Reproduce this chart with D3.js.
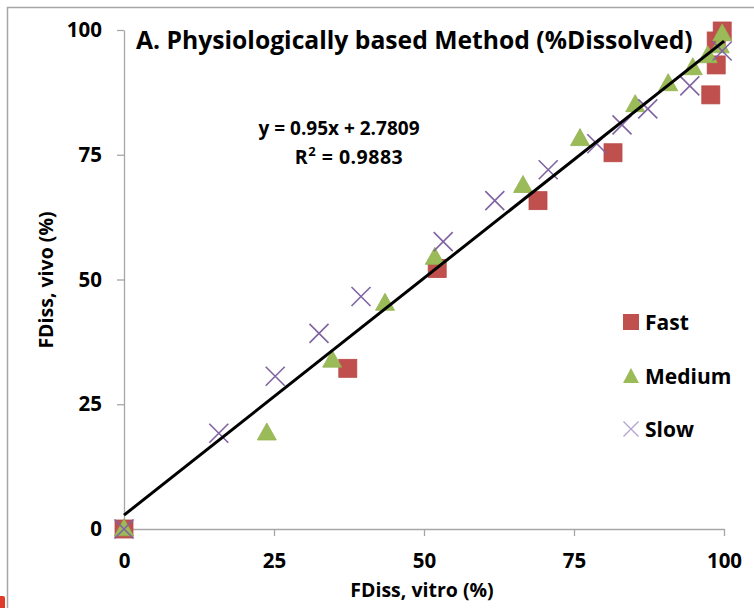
<!DOCTYPE html>
<html>
<head>
<meta charset="utf-8">
<script src="https://cdn.jsdelivr.net/npm/d3@7"></script>
<style>
  html, body { margin: 0; padding: 0; background: #fff; }
  svg { display: block; }
  text { font-family: "Open Sans", Lato, sans-serif; font-weight: 700; fill: #000; }
</style>
</head>
<body>
<svg id="chart" width="754" height="608"></svg>
<script>
// ---- data ----
const fastX   = [0, 37.3, 52.2, 69.0, 81.5, 97.8, 98.7, 98.7, 99.7];
const fastY   = [0, 32.2, 52.2, 65.8, 75.4, 87.0, 93.0, 97.8, 99.8];
const mediumX = [0, 23.8, 34.7, 43.5, 51.8, 66.5, 76.0, 85.2, 90.7, 94.8, 97.3, 99.3, 99.7];
const mediumY = [0, 19.2, 33.8, 45.2, 54.4, 68.8, 78.2, 85.0, 89.2, 92.4, 94.8, 96.8, 99.2];
const slowX   = [0, 15.8, 25.2, 32.5, 39.5, 53.2, 61.8, 70.7, 78.8, 83.0, 87.3, 94.3, 99.7];
const slowY   = [0, 19.2, 30.6, 39.2, 46.6, 57.6, 65.8, 72.0, 77.2, 81.0, 84.2, 88.8, 95.8];
const trendSlope = 0.95, trendIntercept = 2.7809, trendR2 = 0.9883;
const tickValues = [0, 25, 50, 75, 100];
const seriesNames = ["Fast", "Medium", "Slow"];
const titleText = "A. Physiologically based Method (%Dissolved)";
const xTitle = "FDiss, vitro (%)";
const yTitle = "FDiss, vivo (%)";

const colors = { Fast: "#c0504d", Medium: "#9bbb59", Slow: "#8064a2" };

const svg = d3.select("#chart");
const x = d3.scaleLinear().domain([0, 100]).range([124, 724]);
const y = d3.scaleLinear().domain([0, 100]).range([529, 30]);

// outer frame (partial, as in the reference)
svg.append("path").attr("d", "M7.5,608 L7.5,7.5 L754,7.5")
  .attr("fill", "none").attr("stroke", "#a6a6a6").attr("stroke-width", 1.5);
// small clipped red artifact at bottom-left corner
svg.append("rect").attr("x", -4).attr("y", 596).attr("width", 9).attr("height", 14)
  .attr("rx", 2).attr("fill", "#e03c2c");

// axes
const axisColor = "#a6a6a6";
const gx = svg.append("g").attr("transform", `translate(0,${y(0)})`)
  .call(d3.axisBottom(x).tickValues(tickValues).tickSize(7).tickPadding(17).tickSizeOuter(0));
const gy = svg.append("g").attr("transform", `translate(${x(0)},0)`)
  .call(d3.axisLeft(y).tickValues(tickValues).tickSize(7).tickPadding(15).tickSizeOuter(0));
[gx, gy].forEach(g => {
  g.select(".domain").attr("stroke", axisColor).attr("stroke-width", 1.3);
  g.selectAll(".tick line").attr("stroke", axisColor).attr("stroke-width", 1.3);
  g.selectAll(".tick text").attr("font-family", "'Open Sans', sans-serif").attr("font-weight", 700)
    .attr("font-size", 20.5).attr("fill", "#000");
});

// series
const fast = fastX.map((v, i) => ({ x: v, y: fastY[i] }));
const medium = mediumX.map((v, i) => ({ x: v, y: mediumY[i] }));
const slow = slowX.map((v, i) => ({ x: v, y: slowY[i] }));

const sq = 18;
svg.append("g").selectAll("rect").data(fast).join("rect")
  .attr("x", d => x(d.x) - sq / 2).attr("y", d => y(d.y) - sq / 2)
  .attr("width", sq).attr("height", sq)
  .attr("fill", colors.Fast).attr("stroke", "#b84a47").attr("stroke-width", 0.8);

const triW = 19, triH = 17;
const triPath = (cx, cy, w, h) => `M${cx},${cy - h * 0.6} L${cx + w / 2},${cy + h * 0.4} L${cx - w / 2},${cy + h * 0.4} Z`;
svg.append("g").selectAll("path").data(medium).join("path")
  .attr("d", d => triPath(x(d.x), y(d.y), triW, triH))
  .attr("fill", colors.Medium).attr("stroke", "#93b350").attr("stroke-width", 0.8);

const xs = 9.5;
const crossPath = (cx, cy, s) => `M${cx - s},${cy - s} L${cx + s},${cy + s} M${cx - s},${cy + s} L${cx + s},${cy - s}`;
svg.append("g").selectAll("path").data(slow).join("path")
  .attr("d", d => crossPath(x(d.x), y(d.y), xs))
  .attr("fill", "none").attr("stroke", colors.Slow).attr("stroke-width", 1.6);

// trendline
svg.append("line")
  .attr("x1", x(0)).attr("y1", y(trendIntercept))
  .attr("x2", x(100)).attr("y2", y(trendSlope * 100 + trendIntercept))
  .attr("stroke", "#000").attr("stroke-width", 3);

// equation
svg.append("text").attr("x", 339).attr("y", 135).attr("text-anchor", "middle")
  .attr("font-size", 19).text(`y = ${trendSlope}x + ${trendIntercept}`);
const r2 = svg.append("text").attr("x", 349).attr("y", 164).attr("text-anchor", "middle")
  .attr("font-size", 19.5).attr("letter-spacing", 0.5);
r2.append("tspan").text("R");
r2.append("tspan").attr("dy", -8).attr("font-size", 13).text("2");
r2.append("tspan").attr("dy", 8).text(` = ${trendR2}`);

// title
svg.append("text").attr("x", 136).attr("y", 49).attr("font-size", 24.7).text(titleText);

// axis titles
svg.append("text").attr("x", 422).attr("y", 597).attr("text-anchor", "middle")
  .attr("font-size", 19.5).text(xTitle);
svg.append("text").attr("transform", "translate(53,280) rotate(-90)").attr("text-anchor", "middle")
  .attr("font-size", 19.5).text(yTitle);

// legend
const legY = [322, 376, 429];
const leg = svg.append("g");
seriesNames.forEach((name, i) => {
  const cy = legY[i], cx = 631;
  if (name === "Fast") {
    leg.append("rect").attr("x", cx - 8).attr("y", cy - 8).attr("width", 16).attr("height", 16)
      .attr("fill", colors.Fast);
  } else if (name === "Medium") {
    leg.append("path").attr("d", triPath(cx, cy + 1, 16, 15)).attr("fill", colors.Medium);
  } else {
    leg.append("path").attr("d", crossPath(cx, cy, 7.5)).attr("fill", "none")
      .attr("stroke", "#b3a2cf").attr("stroke-width", 1.3);
  }
  leg.append("text").attr("x", 645).attr("y", cy).attr("dy", "0.36em")
    .attr("font-size", 21).text(name);
});
</script>
</body>
</html>
